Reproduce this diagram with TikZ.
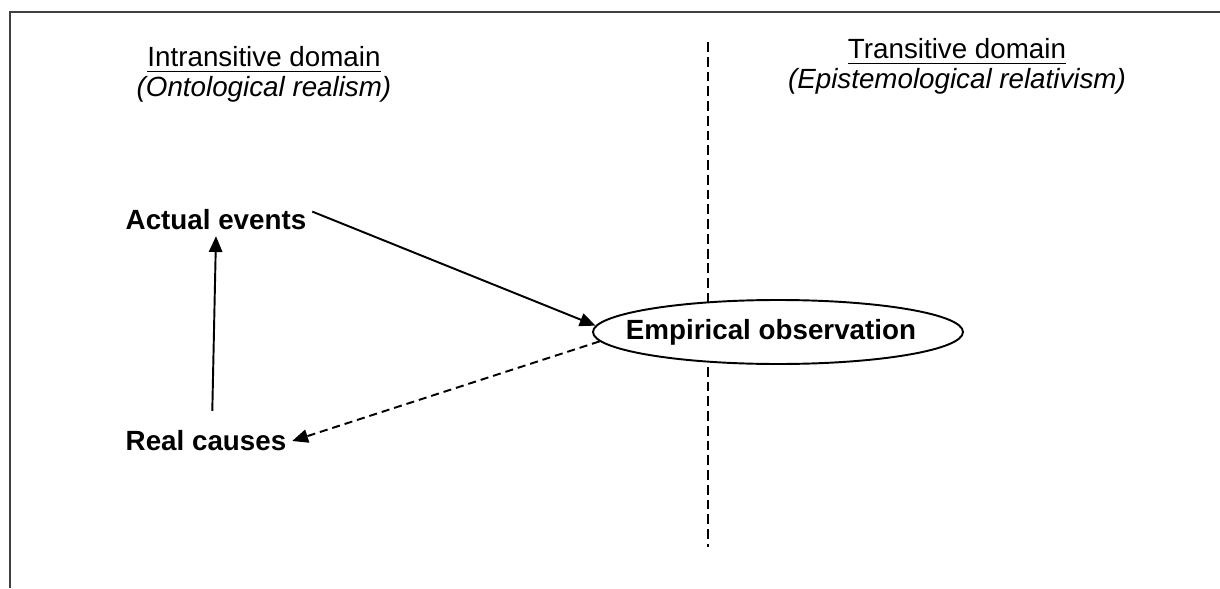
\documentclass[tikz,border=0pt]{standalone}
\usepackage{fontspec}
\setmainfont{Liberation Sans}
\usetikzlibrary{arrows.meta, shapes.geometric, calc}
\tikzset{
    my-heading/.style={
        align=center, font=\fontsize{7.9}{8.6}\selectfont
    },
    my-item/.style={
        inner sep=1.5pt, font=\fontsize{7.9}{9}\selectfont\bfseries
    },
    my-ellipse/.style={
        ellipse, draw, fill=white, line width=0.55pt, minimum width=3.7cm, minimum height=0.64cm,
        inner sep=0pt, font=\fontsize{7.9}{9}\selectfont\bfseries
    },
    my-arrow/.style={
        line width=0.55pt, -{Triangle[length=4.5pt, width=3.8pt]}
    },
    my-divider/.style={
        line width=0.6pt, dash pattern=on 2.8pt off 1.4pt
    },
}

\begin{document}
\begin{tikzpicture}

        \useasboundingbox (0,0) rectangle (12.2,5.88);

        % FRAME
        \draw[line width=0.7pt, black!75] (0.1,0) |- (12.2,5.76);

        % DOMAIN HEADINGS
        \node[my-heading] (INTRANS) at (2.64, 5.14) {\underline{Intransitive domain}\\\textit{(Ontological realism)}};
        \node[my-heading] (TRANS)   at (9.57, 5.22) {\underline{Transitive domain}\\\textit{(Epistemological relativism)}};

        % DIVIDER
        \coordinate (DIVTOP) at (7.08, 5.46);
        \coordinate (DIVBOT) at (7.08, 0.41);
        \draw[my-divider] (DIVTOP) -- (DIVBOT);

        % NODES
        \node[my-item]    (ACTUAL) at (2.16, 3.68)                 {Actual events};
        \node[my-item]    (REAL)   at ($(ACTUAL) + (-0.10, -2.21)$) {Real causes};
        \node[my-ellipse] (EMPIR)  at ($(ACTUAL) + (5.62, -1.12)$)  {\makebox[0pt]{\hspace{-0.14cm}Empirical observation}};

        % CONNECTIONS
        \draw[my-arrow, shorten <=1.4mm] ($(REAL.north) + (0.06, 0)$) -- (ACTUAL.south);
        \draw[my-arrow] (ACTUAL.5) -- (EMPIR.178);
        \draw[my-arrow, dashed, dash pattern=on 2.3pt off 1.4pt] (EMPIR.183) -- (REAL.east);

    \end{tikzpicture}
\end{document}
